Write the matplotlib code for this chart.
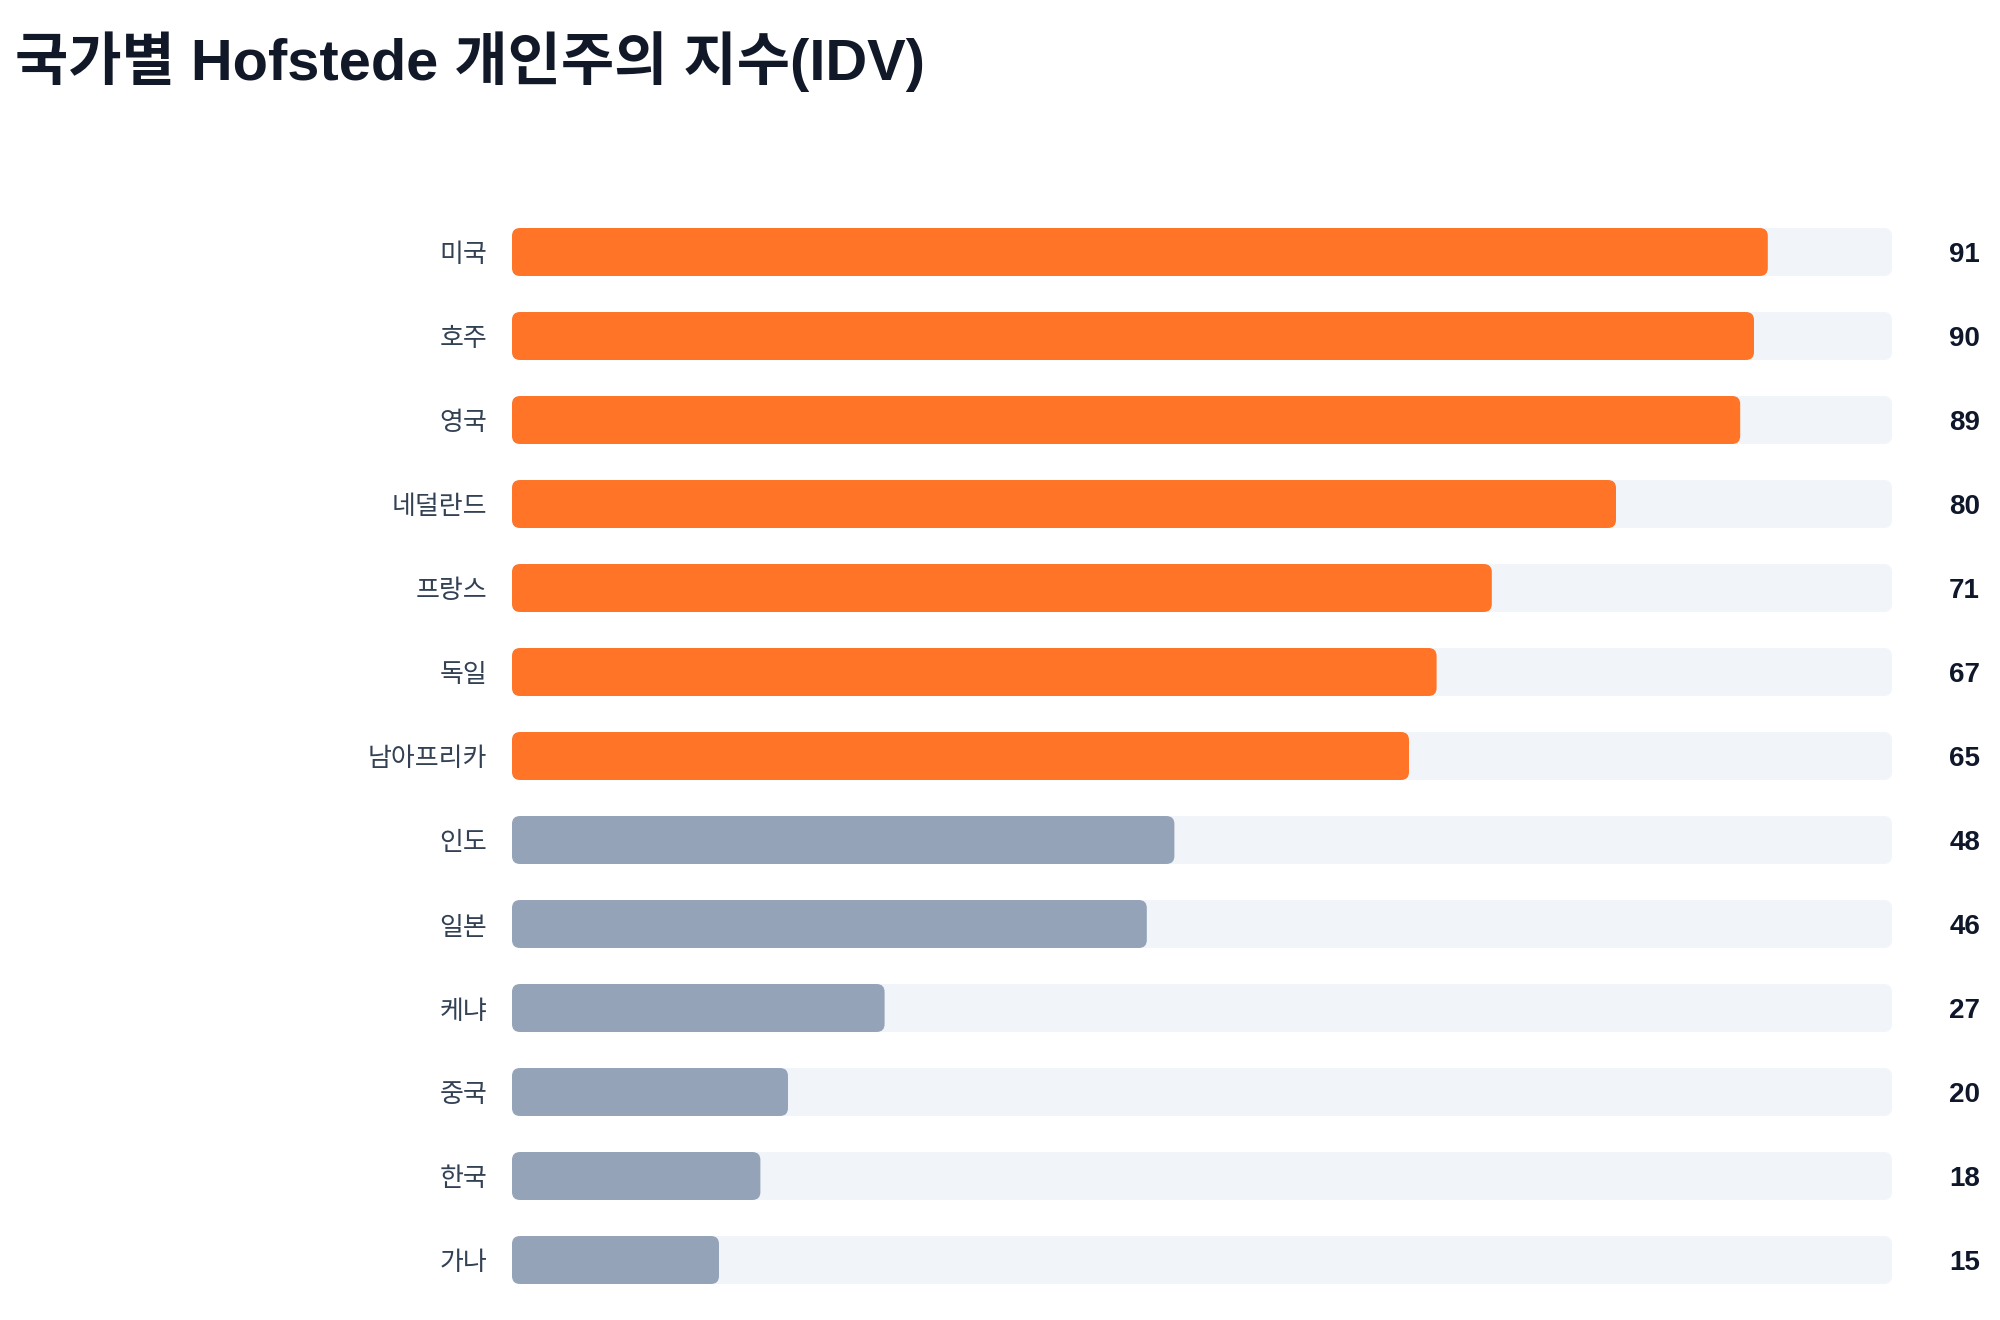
import matplotlib
matplotlib.use("Agg")
import matplotlib.pyplot as plt
from matplotlib.patches import FancyBboxPatch

countries = ["미국", "호주", "영국", "네덜란드", "프랑스", "독일", "남아프리카",
             "인도", "일본", "케냐", "중국", "한국", "가나"]
idv = [91, 90, 89, 80, 71, 67, 65, 48, 46, 27, 20, 18, 15]
groups = ["high"] * 7 + ["low"] * 6
track_max = 100

colors = {"high": "#FF7426", "low": "#94A3B8"}
track_color = "#F1F5F9"

plt.rcParams['font.family'] = ['Liberation Sans', 'Noto Sans CJK KR', 'DejaVu Sans']

W, H, DPI = 2000, 1320, 100
fig = plt.figure(figsize=(W / DPI, H / DPI), dpi=DPI)
fig.patch.set_facecolor("white")

left_px, right_px = 512, 1892
top_px, bottom_px = 210, 1302
ax = fig.add_axes([left_px / W, (H - bottom_px) / H,
                   (right_px - left_px) / W, (bottom_px - top_px) / H])
n = len(countries)
ax.set_xlim(0, track_max)
ax.set_ylim(n - 0.5, -0.5)
ax.axis("off")

bar_h = 0.571
radius_px = 8
x_unit_px = (right_px - left_px) / track_max
y_unit_px = (bottom_px - top_px) / n
r = radius_px / x_unit_px
aspect = (radius_px / y_unit_px) / r
dy = 3 / y_unit_px

for i, (c, v, g) in enumerate(zip(countries, idv, groups)):
    ax.add_patch(FancyBboxPatch((0, i - bar_h / 2), track_max, bar_h,
                                boxstyle=f"round,pad=0,rounding_size={r}",
                                mutation_aspect=aspect, fc=track_color, ec="none"))
    ax.add_patch(FancyBboxPatch((0, i - bar_h / 2), v, bar_h,
                                boxstyle=f"round,pad=0,rounding_size={r}",
                                mutation_aspect=aspect, fc=colors[g], ec="none"))
    ax.text(-25 / x_unit_px, i + dy, c, ha="right", va="center", fontsize=18.7,
            color="#334155", family=['Noto Sans CJK KR', 'DejaVu Sans'], clip_on=False)
    ax.text(track_max + 88 / x_unit_px, i + dy, str(v), ha="right", va="center",
            fontsize=20, fontweight="bold", color="#0F172A", clip_on=False)

fig.text(15 / W, 1 - 80 / H, "국가별 Hofstede 개인주의 지수(IDV)", ha="left", va="baseline",
         fontsize=41.7, fontweight="bold", color="#111827",
         family=['Liberation Sans', 'Noto Sans CJK KR'])

fig.savefig("out.png", dpi=DPI, facecolor="white")
